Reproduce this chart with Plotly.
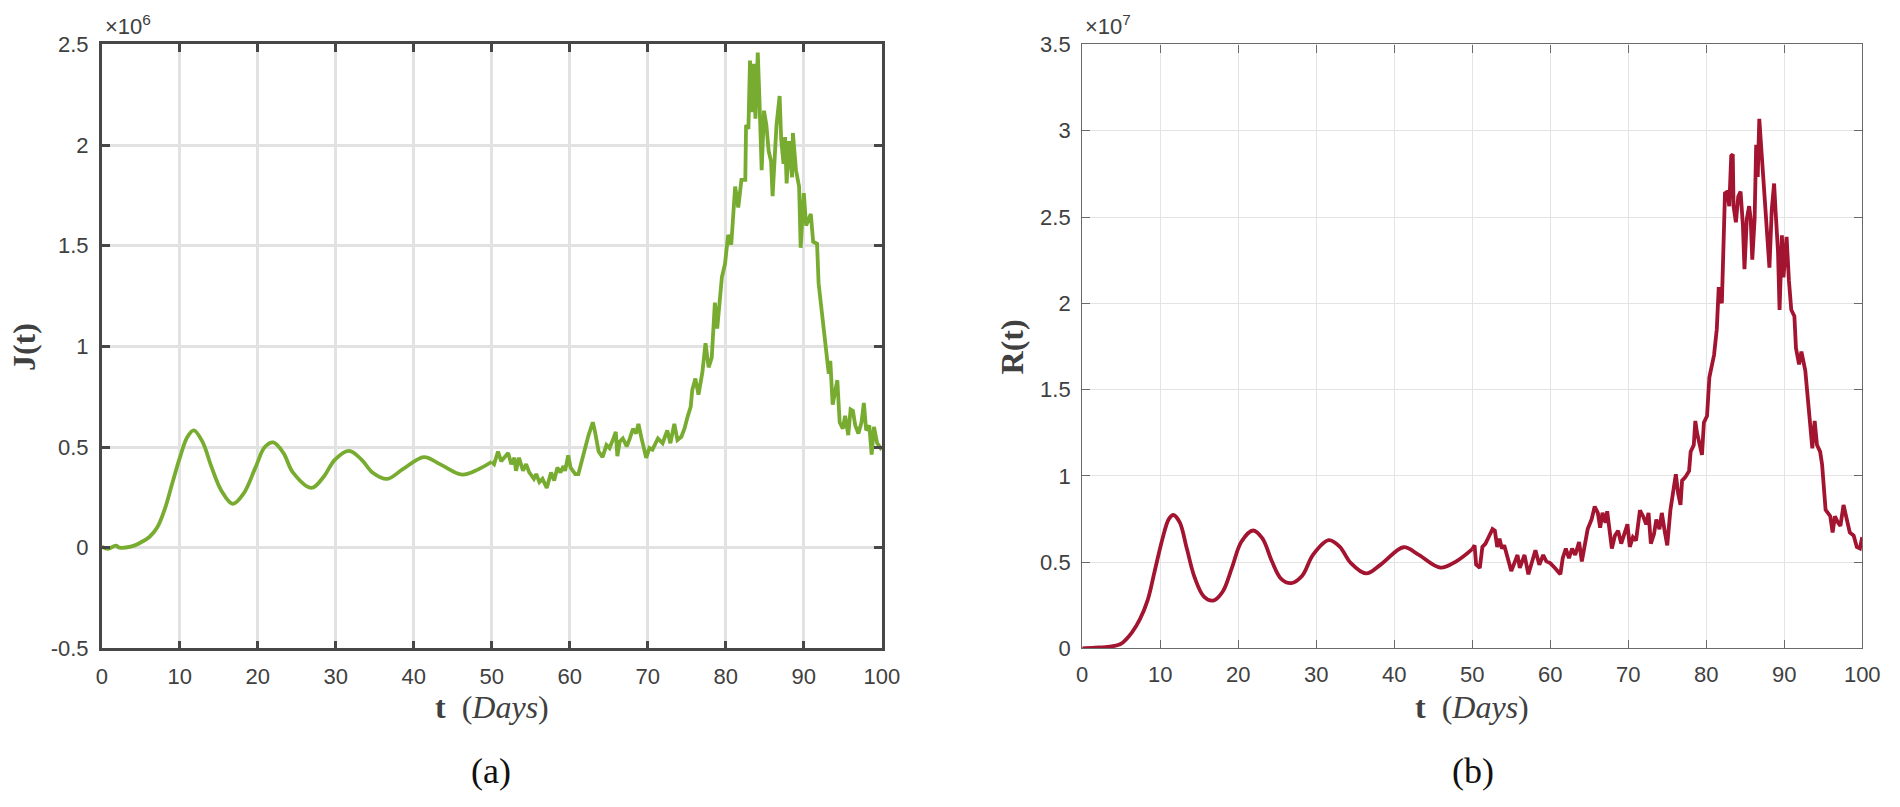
import plotly.graph_objects as go

# ---------------- data ----------------
# J(t), units of 1e6
J_T_SMOOTH = [0, 0.8, 1.8, 2.3, 3.7, 4.7, 6.1, 7.1, 8.06, 9.04, 10.0, 10.97, 11.8, 12.9, 14.1, 15.3,
              16.8, 18.2, 19.7, 20.9, 22.0, 23.3, 24.5, 26.9, 28.4, 29.9, 31.7, 33.3, 34.7, 36.6,
              38.6, 41.3, 43.4, 46.2, 48.3, 50.0]
J_V_SMOOTH = [0.005, -0.006, 0.01, 0.0, 0.005, 0.02, 0.053, 0.10, 0.19, 0.32, 0.446, 0.55, 0.583, 0.527,
              0.398, 0.286, 0.218, 0.27, 0.398, 0.50, 0.523, 0.47, 0.374, 0.297, 0.35, 0.438, 0.481,
              0.438, 0.374, 0.342, 0.39, 0.45, 0.414, 0.363, 0.39, 0.427]
J_T_NOISY = [50.0, 50.3, 50.8, 51.2, 52.1, 52.5, 52.9, 53.1, 53.5, 54.0, 54.4, 54.8, 55.4, 55.7, 56.1, 56.5,
             57.05, 57.6, 58.0, 58.4, 58.8, 59.2, 59.4, 59.8, 60.1, 60.7, 61.1, 61.6, 62.0, 62.4, 62.95,
             63.2, 63.7, 64.2, 64.7, 65.1, 65.6, 65.9, 66.1, 66.4, 66.8, 67.3, 67.7, 68.1, 68.5, 68.8,
             69.2, 69.8, 70.2, 70.6, 71.3, 71.9, 72.5, 72.9, 73.4, 73.8, 74.3, 74.7, 75.1, 75.5, 75.7,
             76.1, 76.5, 77.0, 77.4, 77.8, 78.2, 78.6, 78.9, 79.3, 79.5, 79.9, 80.3, 80.7, 81.2, 81.6,
             82.0, 82.5, 82.6, 82.9, 83.1, 83.4, 83.6, 83.8, 84.1, 84.3, 84.6, 84.9, 85.2, 85.5, 85.8,
             86.0, 86.3, 86.5, 86.9, 87.1, 87.4, 87.6, 87.8, 88.1, 88.5, 88.6, 89.0, 89.4, 89.6, 90.0,
             90.3, 90.9, 91.2, 91.7, 91.9, 92.2, 92.6, 93.0, 93.2, 93.4, 93.7, 94.3, 94.6, 95.0, 95.3,
             95.7, 96.0, 96.3, 96.6, 97.0, 97.4, 97.7, 98.0, 98.4, 98.7, 99.0, 99.4, 100.0]
J_V_NOISY = [0.427, 0.415, 0.478, 0.43, 0.47, 0.415, 0.447, 0.382, 0.447, 0.382, 0.415, 0.374, 0.342, 0.366,
             0.326, 0.342, 0.297, 0.374, 0.334, 0.398, 0.374, 0.406, 0.382, 0.459, 0.398, 0.366, 0.366,
             0.447, 0.51, 0.558, 0.623, 0.583, 0.478, 0.45, 0.51, 0.495, 0.543, 0.575, 0.455, 0.527,
             0.543, 0.503, 0.543, 0.591, 0.567, 0.615, 0.543, 0.446, 0.495, 0.487, 0.543, 0.519, 0.583,
             0.519, 0.615, 0.535, 0.551, 0.591, 0.65, 0.70, 0.783, 0.84, 0.76, 0.872, 1.016, 0.896,
             0.944, 1.217, 1.088, 1.25, 1.345, 1.41, 1.554, 1.506, 1.794, 1.69, 1.827, 1.827, 2.10,
             2.08, 2.42, 2.164, 2.404, 2.131, 2.46, 2.244, 1.875, 2.171, 2.1, 1.97, 1.92, 1.746, 1.97,
             2.099, 2.244, 2.03, 1.907, 2.04, 1.81, 2.02, 1.84, 2.06, 1.875, 1.794, 1.49, 1.762, 1.6,
             1.658, 1.52, 1.51, 1.313, 1.209, 1.104, 0.944, 0.864, 0.928, 0.711, 0.832, 0.623, 0.591,
             0.655, 0.559, 0.687, 0.68, 0.607, 0.567, 0.623, 0.719, 0.583, 0.607, 0.462, 0.6, 0.52,
             0.486]

# R(t), units of 1e7
R_T_SMOOTH = [0, 1.6, 3.5, 5.0, 6.4, 7.4, 8.4, 9.3, 10.3, 11.1, 11.7, 12.5, 13.4, 14.4, 15.6, 16.8, 18.0,
              19.2, 20.4, 21.9, 23.1, 24.3, 25.5, 26.8, 28.2, 29.6, 31.6, 33.0, 34.4, 36.4, 38.3, 41.2,
              43.1, 45.9, 48.0, 50.0]
R_V_SMOOTH = [0, 0.004, 0.01, 0.028, 0.094, 0.169, 0.281, 0.45, 0.637, 0.749, 0.773, 0.73, 0.58, 0.412,
              0.30, 0.277, 0.328, 0.468, 0.618, 0.683, 0.637, 0.506, 0.403, 0.378, 0.421, 0.543, 0.627,
              0.59, 0.496, 0.434, 0.487, 0.586, 0.543, 0.468, 0.506, 0.575]
R_T_NOISY = [50.0, 50.3, 50.5, 50.97, 51.3, 51.7, 52.2, 52.6, 52.9, 53.2, 53.5, 53.8, 54.1, 54.6, 55.0,
             55.4, 55.8, 56.1, 56.7, 57.2, 57.7, 58.1, 58.6, 59.1, 59.5, 60.0, 60.6, 61.3, 61.6, 62.0,
             62.4, 62.8, 63.2, 63.7, 64.05, 64.5, 64.8, 65.3, 65.7, 66.1, 66.4, 66.7, 67.1, 67.3, 67.6,
             67.9, 68.3, 68.7, 69.1, 69.5, 69.9, 70.2, 70.6, 71.0, 71.5, 71.9, 72.3, 72.6, 72.9, 73.3,
             73.6, 74.0, 74.3, 74.7, 75.0, 75.4, 75.8, 76.1, 76.4, 76.7, 76.9, 77.3, 77.8, 78.0, 78.4,
             78.6, 78.8, 79.1, 79.45, 79.7, 80.1, 80.4, 80.7, 81.0, 81.35, 81.6, 82.0, 82.2, 82.4, 82.7,
             82.95, 83.2, 83.4, 83.5, 83.8, 84.1, 84.4, 84.7, 84.9, 85.2, 85.5, 85.7, 85.9, 86.2, 86.4,
             86.6, 86.8, 87.05, 87.3, 87.6, 87.9, 88.1, 88.4, 88.7, 88.9, 89.2, 89.4, 89.7, 89.9, 90.1,
             90.3, 90.6, 90.9, 91.3, 91.5, 91.9, 92.2, 92.7, 93.0, 93.25, 93.6, 93.9, 94.2, 94.6, 94.85,
             95.3, 95.6, 95.9, 96.2, 96.5, 96.9, 97.2, 97.6, 98.0, 98.4, 98.9, 99.3, 99.7, 100.0]
R_V_NOISY = [0.575, 0.597, 0.485, 0.466, 0.588, 0.607, 0.654, 0.691, 0.682, 0.588, 0.635, 0.579, 0.597,
             0.504, 0.448, 0.494, 0.541, 0.466, 0.541, 0.429, 0.504, 0.569, 0.485, 0.541, 0.504, 0.494,
             0.466, 0.429, 0.522, 0.579, 0.522, 0.579, 0.541, 0.616, 0.504, 0.635, 0.691, 0.747, 0.822,
             0.785, 0.70, 0.785, 0.728, 0.794, 0.691, 0.579, 0.654, 0.682, 0.607, 0.672, 0.719, 0.588,
             0.644, 0.625, 0.80, 0.766, 0.719, 0.785, 0.607, 0.663, 0.747, 0.691, 0.785, 0.672, 0.597,
             0.80, 0.934, 1.009, 0.897, 0.831, 0.972, 0.991, 1.028, 1.14, 1.178, 1.318, 1.253, 1.197,
             1.122, 1.309, 1.346, 1.571, 1.65, 1.70, 1.85, 2.094, 2.0, 2.338, 2.638, 2.647, 2.563, 2.854,
             2.863, 2.563, 2.469, 2.619, 2.647, 2.45, 2.197, 2.488, 2.563, 2.488, 2.253, 2.488, 2.919,
             2.732, 3.069, 2.90, 2.75, 2.507, 2.394, 2.206, 2.544, 2.694, 2.525, 2.30, 1.962, 2.394, 2.15,
             2.30, 2.385, 2.131, 1.962, 1.925, 1.74, 1.646, 1.72, 1.609, 1.44, 1.30, 1.159, 1.318, 1.178,
             1.14, 1.066, 0.803, 0.785, 0.766, 0.672, 0.766, 0.728, 0.71, 0.831, 0.747, 0.672, 0.654,
             0.588, 0.579, 0.644]

X_TICKS = [0, 10, 20, 30, 40, 50, 60, 70, 80, 90, 100]
X_TICK_TEXT = ["0", "10", "20", "30", "40", "50", "60", "70", "80", "90", "100"]
J_TICKS = [-0.5, 0, 0.5, 1, 1.5, 2, 2.5]
J_TICK_TEXT = ["-0.5", "0", "0.5", "1", "1.5", "2", "2.5"]
R_TICKS = [0, 0.5, 1, 1.5, 2, 2.5, 3, 3.5]
R_TICK_TEXT = ["0", "0.5", "1", "1.5", "2", "2.5", "3", "3.5"]

GREEN = "#77AC30"
RED = "#A2142F"

W, H = 1900, 807
def px(x):
    return x / W
def py(y):
    return 1 - y / H

fig = go.Figure()
fig.add_trace(go.Scatter(x=J_T_SMOOTH, y=J_V_SMOOTH, mode="lines", xaxis="x", yaxis="y",
                         line=dict(color=GREEN, width=3.8, shape="spline", smoothing=1.0), showlegend=False))
fig.add_trace(go.Scatter(x=J_T_NOISY, y=J_V_NOISY, mode="lines", xaxis="x", yaxis="y",
                         line=dict(color=GREEN, width=3.8), showlegend=False))
fig.add_trace(go.Scatter(x=R_T_SMOOTH, y=R_V_SMOOTH, mode="lines", xaxis="x2", yaxis="y2",
                         line=dict(color=RED, width=3.8, shape="spline", smoothing=1.0), showlegend=False))
fig.add_trace(go.Scatter(x=R_T_NOISY, y=R_V_NOISY, mode="lines", xaxis="x2", yaxis="y2",
                         line=dict(color=RED, width=3.8), showlegend=False))

tickfont = dict(family="Liberation Sans, Arial, Helvetica, sans-serif", size=22, color="#404040")
ydom = [py(656.7), py(33.5)]

def axis(domain, rng, tv, tt, lw, lc, gw, gc, anchor):
    return dict(domain=domain, range=rng, tickvals=tv, ticktext=tt, showline=True, linewidth=lw,
                linecolor=lc, mirror="ticks", ticks="inside", ticklen=8, tickwidth=lw, tickcolor=lc,
                showgrid=True, gridcolor=gc, gridwidth=gw, zeroline=False, tickfont=tickfont,
                anchor=anchor, fixedrange=True, ticklabelstandoff=6)

fig.update_layout(
    width=W, height=H, margin=dict(l=0, r=0, t=0, b=0),
    paper_bgcolor="white", plot_bgcolor="white", showlegend=False,
    xaxis=axis([px(97), px(887)], [0, 100], X_TICKS, X_TICK_TEXT, 2.5, "#474747", 2.5, "#e2e2e2", "y"),
    yaxis=axis(ydom, [-0.5, 2.5], J_TICKS, J_TICK_TEXT, 2.5, "#474747", 2.5, "#e2e2e2", "x"),
    xaxis2=axis([px(1090), px(1880)], [0, 100], X_TICKS, X_TICK_TEXT, 1.3, "#6a6a6a", 1.3, "#e4e4e4", "y2"),
    yaxis2=axis(ydom, [0, 3.5], R_TICKS, R_TICK_TEXT, 1.3, "#6a6a6a", 1.3, "#e4e4e4", "x2"),
)

serif = "Liberation Serif, Times New Roman, serif"
ann = [
    dict(x=px(98), y=py(30), text="×10<sup>6</sup>", xanchor="left", yanchor="bottom",
         font=dict(family=tickfont["family"], size=22, color="#404040")),
    dict(x=px(1091), y=py(30), text="×10<sup>7</sup>", xanchor="left", yanchor="bottom",
         font=dict(family=tickfont["family"], size=22, color="#404040")),
    dict(x=px(19), y=py(346), text="<b>J(t)</b>", textangle=-90, xanchor="center", yanchor="middle",
         font=dict(family=serif, size=32, color="#404040")),
    dict(x=px(1019), y=py(346), text="<b>R(t)</b>", textangle=-90, xanchor="center", yanchor="middle",
         font=dict(family=serif, size=32, color="#404040")),
    dict(x=px(492), y=py(717), text="<b>t</b>  (<i>Days</i>)", xanchor="center", yanchor="middle",
         font=dict(family=serif, size=32, color="#404040")),
    dict(x=px(1485), y=py(717), text="<b>t</b>  (<i>Days</i>)", xanchor="center", yanchor="middle",
         font=dict(family=serif, size=32, color="#404040")),
    dict(x=px(491), y=py(783), text="(a)", xanchor="center", yanchor="middle",
         font=dict(family=serif, size=36, color="#111111")),
    dict(x=px(1486), y=py(783), text="(b)", xanchor="center", yanchor="middle",
         font=dict(family=serif, size=36, color="#111111")),
]
for a in ann:
    a.update(xref="paper", yref="paper", showarrow=False)
fig.update_layout(annotations=ann)

fig.write_html("out.html", config={"displayModeBar": False},
               post_script="document.body.style.margin='0';document.body.style.overflow='hidden';")
